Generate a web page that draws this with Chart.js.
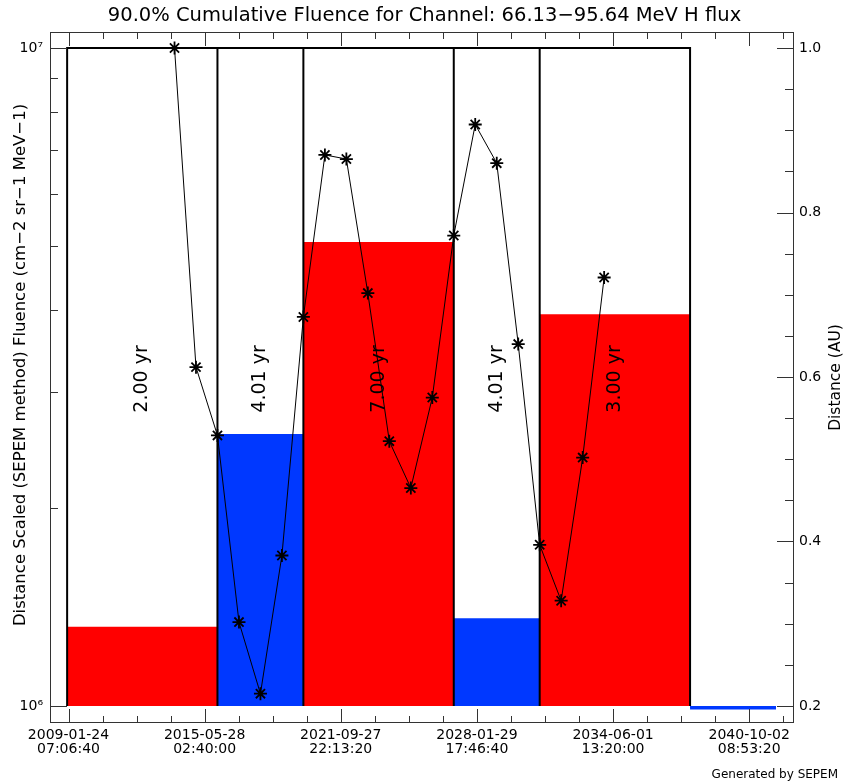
<!DOCTYPE html>
<html>
<head>
<meta charset="utf-8">
<title>Cumulative fluence</title>
<script src="https://cdn.jsdelivr.net/npm/chart.js@4.4.1/dist/chart.umd.min.js"></script>
<style>
  html, body { margin: 0; padding: 0; background: #fff; }
  #wrap { width: 849px; height: 784px; }
</style>
</head>
<body>
<div id="wrap"><canvas id="fluence" width="849" height="784"></canvas></div>
<script>
// periods (UTC) and the 90% cumulative fluence reached in each
const periodStarts = ['2009-01-01', '2016-01-01', '2020-01-01', '2027-01-01', '2031-01-01', '2038-01-01'];
const periodEnds = ['2016-01-01', '2020-01-01', '2027-01-01', '2031-01-01', '2038-01-01', '2042-01-01'];
const periodFluence = [1.32e6, 2.59e6, 5.07e6, 1.36e6, 3.94e6, 0.993e6];
const periodPhase = ['max', 'min', 'max', 'min', 'max', 'min'];
const periodLabels = ['2.00 yr', '4.01 yr', '7.00 yr', '4.01 yr', '3.00 yr', ''];

// spacecraft distance from the Sun, 1 January of each year
const distanceYears = [2014, 2015, 2016, 2017, 2018, 2019, 2020, 2021, 2022, 2023, 2024,
                       2025, 2026, 2027, 2028, 2029, 2030, 2031, 2032, 2033, 2034];
const distanceAU = [1.000, 0.612, 0.529, 0.302, 0.215, 0.383, 0.673, 0.870, 0.865, 0.702, 0.522,
                    0.465, 0.575, 0.772, 0.907, 0.860, 0.640, 0.396, 0.328, 0.502, 0.721];

// axis ticks
const timeTicks = ['2009-01-24 07:06:40', '2015-05-28 02:40:00', '2021-09-27 22:13:20',
                   '2028-01-29 17:46:40', '2034-06-01 13:20:00', '2040-10-02 08:53:20'];
const fluenceTicks = [1e6, 1e7];
const distanceTicks = [0.2, 0.4, 0.6, 0.8, 1.0];

const FONT = 'DejaVu Sans';
const phaseColor = { max: '#ff0000', min: 'rgb(0,56,255)' };
const toSec = s => Date.parse(s.length > 10 ? s.replace(' ', 'T') + 'Z' : s + 'T00:00:00Z') / 1000;
const SUP = { '0': '\u2070', '1': '\u00b9', '2': '\u00b2', '3': '\u00b3', '4': '\u2074',
              '5': '\u2075', '6': '\u2076', '7': '\u2077', '8': '\u2078', '9': '\u2079' };

const periodSets = periodStarts.map((s, i) => ({
  data: [{ x: toSec(s), y: periodFluence[i] }, { x: toSec(periodEnds[i]), y: periodFluence[i] }],
  yAxisID: 'y',
  borderColor: phaseColor[periodPhase[i]],
  backgroundColor: phaseColor[periodPhase[i]],
  borderWidth: periodFluence[i] < 1e6 ? 3 : 0,
  fill: { value: 1e6 },
  pointRadius: 0,
  order: 3
}));

// black boxes round the labelled periods
const boxEdges = periodStarts.filter((s, i) => periodLabels[i]).map(toSec);
boxEdges.push(toSec(periodEnds[periodLabels.filter(l => l).length - 1]));
const outline = [];
boxEdges.forEach((e, i) => {
  if (i === 0) outline.push({ x: e, y: 1e6 });
  outline.push({ x: e, y: 1e7 });
  if (i > 0) { outline.push({ x: e, y: 1e6 }); outline.push({ x: e, y: 1e7 }); }
});

const distanceSet = {
  data: distanceYears.map((yr, i) => ({ x: Date.UTC(yr, 0, 1) / 1000, y: distanceAU[i] })),
  yAxisID: 'y1',
  borderColor: '#000',
  borderWidth: 1,
  pointStyle: 'star',
  pointRadius: 6.5,
  pointBorderWidth: 1.8,
  pointBorderColor: '#000',
  fill: false,
  tension: 0,
  order: 0
};

const outlineSet = {
  data: outline,
  yAxisID: 'y',
  borderColor: '#000',
  borderWidth: 2,
  borderJoinStyle: 'miter',
  pointRadius: 0,
  fill: false,
  order: 1
};

// frame, inward ticks and the free text
const frameTicks = {
  id: 'frameTicks',
  afterDraw(chart) {
    const { ctx, chartArea: a, scales: { x, y, y1 } } = chart;
    ctx.save();
    ctx.strokeStyle = '#333';
    ctx.lineWidth = 1;
    ctx.strokeRect(a.left + 0.5, a.top + 0.5, a.right - a.left - 1, a.bottom - a.top - 1);

    ctx.beginPath();
    const t0 = toSec(timeTicks[0]);
    const step = 50e6;
    let v = t0;
    while (v - step >= x.min) v -= step;
    for (; v <= x.max; v += step) {
      const px = Math.round(x.getPixelForValue(v)) + 0.5;
      const len = Math.abs(((v - t0) / step) % 4) < 1e-6 ? 13 : 6;
      ctx.moveTo(px, a.bottom - 1); ctx.lineTo(px, a.bottom - 1 - len);
      ctx.moveTo(px, a.top + 1); ctx.lineTo(px, a.top + 1 + len);
    }
    for (let m = 1e6; m <= 1e7; m += 1e6) {
      const py = Math.round(y.getPixelForValue(m)) + 0.5;
      const len = (m === 1e6 || m === 1e7) ? 16 : 7;
      ctx.moveTo(a.left + 1, py); ctx.lineTo(a.left + 1 + len, py);
    }
    for (let k = 4; k <= 20; k++) {
      const py = Math.round(y1.getPixelForValue(k * 0.05)) + 0.5;
      const len = k % 4 === 0 ? 16 : 8;
      ctx.moveTo(a.right - 1, py); ctx.lineTo(a.right - 1 - len, py);
    }
    ctx.stroke();

    ctx.fillStyle = '#000';
    ctx.textBaseline = 'middle';
    ctx.textAlign = 'center';

    // period durations
    ctx.font = '19px "' + FONT + '"';
    const midY = y.getPixelForValue(Math.sqrt(1e6 * 1e7)) + 2;
    periodLabels.forEach((lab, i) => {
      if (!lab) return;
      const cx = x.getPixelForValue((toSec(periodStarts[i]) + toSec(periodEnds[i])) / 2);
      ctx.save();
      ctx.translate(cx, midY);
      ctx.rotate(-Math.PI / 2);
      ctx.fillText(lab, 0, 0);
      ctx.restore();
    });

    // axis titles
    ctx.font = '16.5px "' + FONT + '"';
    ctx.save();
    ctx.translate(21, 365);
    ctx.rotate(-Math.PI / 2);
    ctx.fillText('Distance Scaled (SEPEM method) Fluence (cm\u22122 sr\u22121 MeV\u22121)', 0, 0);
    ctx.restore();
    ctx.font = '15.5px "' + FONT + '"';
    ctx.save();
    ctx.translate(836, (a.top + a.bottom) / 2);
    ctx.rotate(-Math.PI / 2);
    ctx.fillText('Distance (AU)', 0, 0);
    ctx.restore();

    ctx.font = '12px "' + FONT + '"';
    ctx.textAlign = 'right';
    ctx.textBaseline = 'alphabetic';
    ctx.fillText('Generated by SEPEM', 838, 778);
    ctx.restore();
  }
};

const tickFont = { family: FONT, size: 14, lineHeight: 0.95 };

new Chart(document.getElementById('fluence'), {
  type: 'line',
  data: { datasets: [distanceSet, outlineSet, ...periodSets] },
  options: {
    responsive: false,
    animation: false,
    devicePixelRatio: 1,
    layout: { padding: 0 },
    plugins: {
      legend: { display: false },
      tooltip: { enabled: false },
      title: {
        display: true,
        text: '90.0% Cumulative Fluence for Channel: 66.13\u221295.64 MeV H flux',
        color: '#000',
        font: { family: FONT, size: 19.5, weight: 'normal', lineHeight: 1.1 },
        padding: { top: 5, bottom: 5.55 }
      }
    },
    scales: {
      x: {
        type: 'linear',
        position: 'bottom',
        min: 1205600000,
        max: 2298600000,
        bounds: 'data',
        grid: { display: false, drawTicks: false },
        border: { display: false },
        afterBuildTicks: s => { s.ticks = timeTicks.map(t => ({ value: toSec(t) })); },
        afterFit: s => { s.height = 61; },
        ticks: {
          autoSkip: false, maxRotation: 0, minRotation: 0, padding: 6,
          color: '#000', font: tickFont,
          callback: (val, i) => timeTicks[i].split(' ')
        }
      },
      y: {
        type: 'logarithmic',
        position: 'left',
        min: 942260,
        max: 10576000,
        bounds: 'data',
        grid: { display: false, drawTicks: false },
        border: { display: false },
        afterBuildTicks: s => { s.ticks = fluenceTicks.map(v => ({ value: v })); },
        afterFit: s => { s.width = 50; },
        ticks: {
          padding: 7, color: '#000', font: { family: FONT, size: 14 },
          callback: val => '10' + String(Math.round(Math.log10(val))).split('').map(d => SUP[d]).join('')
        }
      },
      y1: {
        type: 'linear',
        position: 'right',
        min: 0.179331,
        max: 1.019453,
        bounds: 'data',
        grid: { display: false, drawTicks: false },
        border: { display: false },
        afterBuildTicks: s => { s.ticks = distanceTicks.map(v => ({ value: v })); },
        afterFit: s => { s.width = 55; },
        ticks: {
          padding: 5, color: '#000', font: { family: FONT, size: 14 },
          callback: val => val.toFixed(1)
        }
      }
    }
  },
  plugins: [frameTicks]
});
</script>
</body>
</html>
